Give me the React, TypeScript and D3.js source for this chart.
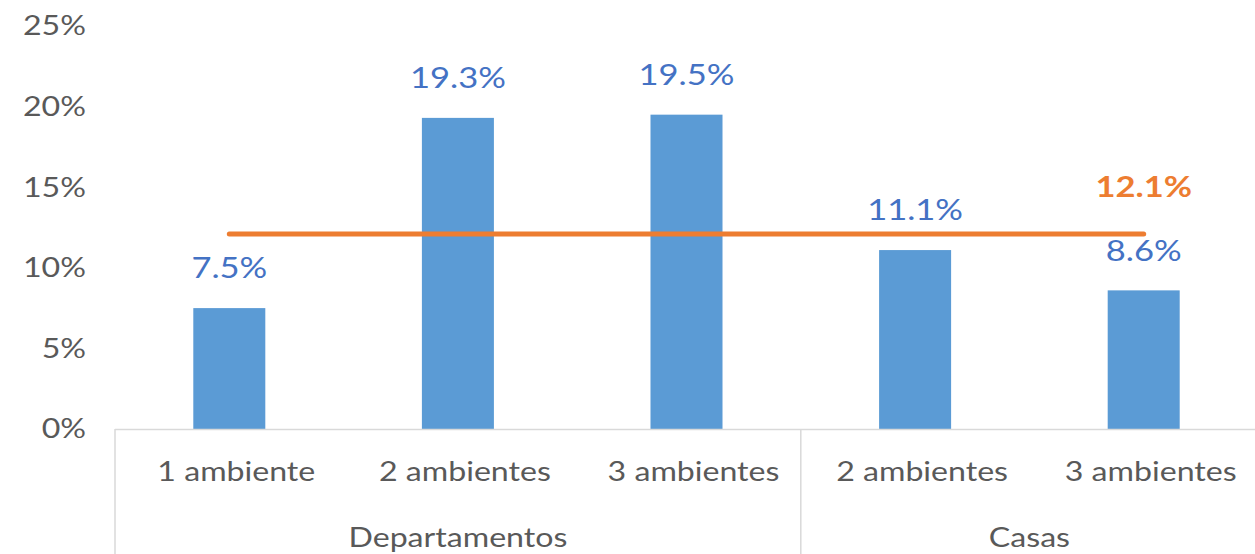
import React from "react";
import * as d3 from "d3";

const categories = ["1 ambiente", "2 ambientes", "3 ambientes", "2 ambientes", "3 ambientes"];
const groups = ["Departamentos", "Departamentos", "Departamentos", "Casas", "Casas"];
const groupNames = ["Departamentos", "Casas"];
const values = [7.5, 19.3, 19.5, 11.1, 8.6];
const average = 12.1;
const yTicks = [0, 5, 10, 15, 20, 25];

const W = 1255;
const H = 554;
const left = 115;
const right = 1258;
const y0 = 429;
const yTop = 26;
const FONT = "Lato, 'Open Sans', sans-serif";
const SX = 1.19;

function T(props: { x: number; y: number; anchor: string; size: number; fill: string; bold?: boolean; children: React.ReactNode }) {
  return (
    <text
      transform={`translate(${props.x},${props.y}) scale(${SX},1)`}
      dy="0.35em"
      textAnchor={props.anchor}
      fontSize={props.size}
      fontWeight={props.bold ? "bold" : "normal"}
      fill={props.fill}
    >
      {props.children}
    </text>
  );
}

export default function App() {
  const x = d3.scaleBand<number>().domain(d3.range(categories.length)).range([left, right]).paddingInner(0.685).paddingOuter(0.3425);
  const step = x.step();
  const y = d3.scaleLinear().domain([0, 25]).range([y0, yTop]);
  const cx = (i: number) => (x(i) as number) + x.bandwidth() / 2;
  const line = d3.line<number>().x((_, i) => cx(i)).y(() => y(average));

  const groupSpans = groupNames.map((g) => {
    const idx = groups.map((gg, i) => (gg === g ? i : -1)).filter((i) => i >= 0);
    const x0 = left + idx[0] * step;
    const x1 = left + (idx[idx.length - 1] + 1) * step;
    return { g, x0, x1 };
  });

  return (
    <svg width={W} height={H} style={{ position: "absolute", left: 0, top: 0, background: "#fff" }}>
      <g fontFamily={FONT}>
        {yTicks.map((t) => (
          <T key={t} x={86} y={y(t)} anchor="end" size={27} fill="#595959">
            {t}%
          </T>
        ))}
        {values.map((v, i) => (
          <rect key={i} x={x(i)} y={y(v)} width={x.bandwidth()} height={y0 - y(v)} fill="#5B9BD5" />
        ))}
        <line x1={left} x2={right} y1={y0 + 0.5} y2={y0 + 0.5} stroke="#D9D9D9" strokeWidth={1.5} />
        {[left, ...groupSpans.map((s) => s.x1)].map((gx, i) => (
          <line key={i} x1={gx} x2={gx} y1={y0} y2={H} stroke="#D9D9D9" strokeWidth={1.5} />
        ))}
        {categories.map((c, i) => (
          <T key={i} x={cx(i) + 7} y={472} anchor="middle" size={27} fill="#595959">
            {c}
          </T>
        ))}
        {groupSpans.map((s) => (
          <T key={s.g} x={(s.x0 + s.x1) / 2} y={538} anchor="middle" size={27} fill="#595959">
            {s.g}
          </T>
        ))}
        <path d={line(values) as string} fill="none" stroke="#ED7D31" strokeWidth={5} strokeLinecap="round" />
        {values.map((v, i) => (
          <T key={i} x={cx(i)} y={y(v) - 40} anchor="middle" size={29} fill="#4472C4">
            {v.toFixed(1)}%
          </T>
        ))}
        <T x={cx(values.length - 1)} y={y(average) - 47} anchor="middle" size={29} bold fill="#ED7D31">
          {average.toFixed(1)}%
        </T>
      </g>
    </svg>
  );
}
